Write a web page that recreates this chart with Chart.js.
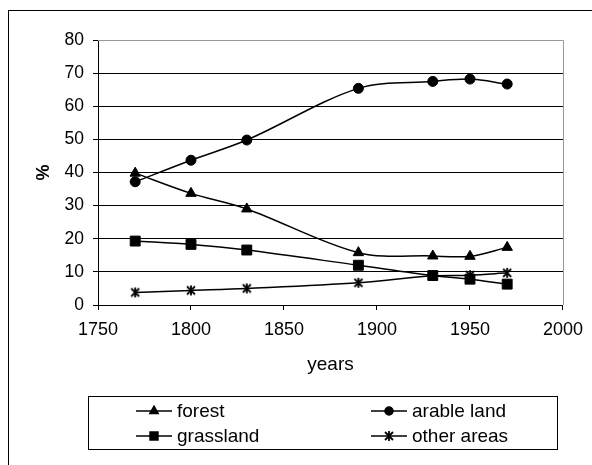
<!DOCTYPE html>
<html>
<head>
<meta charset="utf-8">
<title>Land use</title>
<script src="https://cdn.jsdelivr.net/npm/chart.js@4/dist/chart.umd.min.js"></script>
<style>
    body { margin: 0; background: #fff; }
    #chart { display: block; }
</style>
</head>
<body>
<canvas id="chart" width="592" height="465"></canvas>
<script>
// values
const years = [1770, 1800, 1830, 1890, 1930, 1950, 1970];
const forest = [39.8, 33.7, 29.0, 15.8, 14.8, 14.7, 17.4];
const arableLand = [37.2, 43.7, 49.8, 65.4, 67.5, 68.2, 66.7];
const grassland = [19.3, 18.3, 16.6, 12.0, 8.9, 7.8, 6.3];
const otherAreas = [3.8, 4.4, 5.0, 6.7, 8.8, 9.0, 9.7];
const yTicks = [0, 10, 20, 30, 40, 50, 60, 70, 80];
const xTicks = [1750, 1800, 1850, 1900, 1950, 2000];

const FONT = 'Liberation Sans, Arial, sans-serif';

// Excel style "star" marker: an x with a vertical bar
function makeStar() {
    const c = document.createElement('canvas');
    c.width = 12;
    c.height = 12;
    const g = c.getContext('2d');
    g.strokeStyle = '#000';
    g.lineWidth = 1.8;
    g.beginPath();
    g.moveTo(2, 2); g.lineTo(10, 10);
    g.moveTo(10, 2); g.lineTo(2, 10);
    g.moveTo(6, 1); g.lineTo(6, 11);
    g.stroke();
    return c;
}

function toPoints(values) {
    return years.map((yr, i) => ({ x: yr, y: values[i] }));
}

function series(label, values, style, radius) {
    return {
        label: label,
        data: toPoints(values),
        borderColor: '#000',
        backgroundColor: '#000',
        borderWidth: 1.5,
        tension: 0.33,
        pointStyle: style,
        pointRadius: radius,
        pointHoverRadius: radius,
        pointBorderWidth: 1,
        pointBackgroundColor: '#000',
        pointBorderColor: '#000'
    };
}

const frameAndLegend = {
    id: 'frameAndLegend',
    beforeDraw(chart) {
        const ctx = chart.ctx;
        ctx.save();
        ctx.fillStyle = '#fff';
        ctx.fillRect(0, 0, chart.width, chart.height);
        ctx.strokeStyle = '#000';
        ctx.lineWidth = 1;
        ctx.strokeRect(8.5, 10.5, 700, 600);
        ctx.restore();
    },
    afterDraw(chart) {
        const ctx = chart.ctx;
        const area = chart.chartArea;
        ctx.save();
        // grey plot border on top and right
        ctx.strokeStyle = '#999';
        ctx.lineWidth = 1;
        ctx.beginPath();
        ctx.moveTo(area.left, Math.round(area.top) + 0.5);
        ctx.lineTo(Math.round(area.right) + 0.5, Math.round(area.top) + 0.5);
        ctx.lineTo(Math.round(area.right) + 0.5, area.bottom);
        ctx.stroke();

        // legend box
        ctx.strokeStyle = '#000';
        ctx.strokeRect(88.5, 396.5, 469, 53);
        const cols = [136, 371];
        const rows = [411, 436];
        chart.data.datasets.forEach((ds, i) => {
            const x = cols[i % 2];
            const y = rows[Math.floor(i / 2)];
            ctx.strokeStyle = '#000';
            ctx.lineWidth = 1.5;
            ctx.beginPath();
            ctx.moveTo(x, y);
            ctx.lineTo(x + 36, y);
            ctx.stroke();
            ctx.fillStyle = '#000';
            Chart.helpers.drawPoint(ctx, {
                pointStyle: ds.pointStyle,
                radius: ds.pointRadius * 0.8,
                rotation: 0,
                borderWidth: 1
            }, x + 18, y);
            ctx.fillStyle = '#000';
            ctx.font = '19px ' + FONT;
            ctx.textBaseline = 'middle';
            ctx.textAlign = 'left';
            ctx.fillText(ds.label, x + 41, y + 1);
        });
        ctx.restore();
    }
};

new Chart(document.getElementById('chart'), {
    type: 'line',
    data: {
        datasets: [
            series('forest', forest, 'triangle', 6),
            series('arable land', arableLand, 'circle', 5),
            series('grassland', grassland, 'rect', 7),
            series('other areas', otherAreas, makeStar(), 6)
        ]
    },
    options: {
        responsive: false,
        animation: false,
        layout: { padding: { left: 0, top: 40, right: 28, bottom: 80 } },
        plugins: {
            legend: { display: false },
            tooltip: { enabled: false }
        },
        scales: {
            x: {
                type: 'linear',
                min: xTicks[0],
                max: xTicks[xTicks.length - 1],
                afterBuildTicks(scale) {
                    scale.ticks = xTicks.map(v => ({ value: v }));
                },
                afterFit(scale) { scale.height = 80; },
                grid: { drawOnChartArea: false, color: '#000', tickLength: 5 },
                border: { color: '#000', width: 1 },
                ticks: {
                    color: '#000',
                    font: { family: FONT, size: 18 },
                    padding: 9,
                    maxRotation: 0,
                    callback: v => String(v)
                },
                title: {
                    display: true,
                    text: 'years',
                    color: '#000',
                    font: { family: FONT, size: 19 },
                    padding: { top: 0, bottom: 9 }
                }
            },
            y: {
                min: yTicks[0],
                max: yTicks[yTicks.length - 1],
                afterBuildTicks(scale) {
                    scale.ticks = yTicks.map(v => ({ value: v }));
                },
                afterFit(scale) { scale.width = 98; },
                grid: {
                    color: ctx => (ctx.tick && ctx.tick.value === 80 ? '#999' : '#000'),
                    tickColor: '#000',
                    tickLength: 5
                },
                border: { color: '#000', width: 1 },
                ticks: {
                    color: '#000',
                    font: { family: FONT, size: 17.5 },
                    padding: 9
                },
                title: {
                    display: true,
                    text: '%',
                    color: '#000',
                    font: { family: FONT, size: 18, weight: 'bold' },
                    padding: { top: 33, bottom: 0 }
                }
            }
        }
    },
    plugins: [frameAndLegend]
});
</script>
</body>
</html>
